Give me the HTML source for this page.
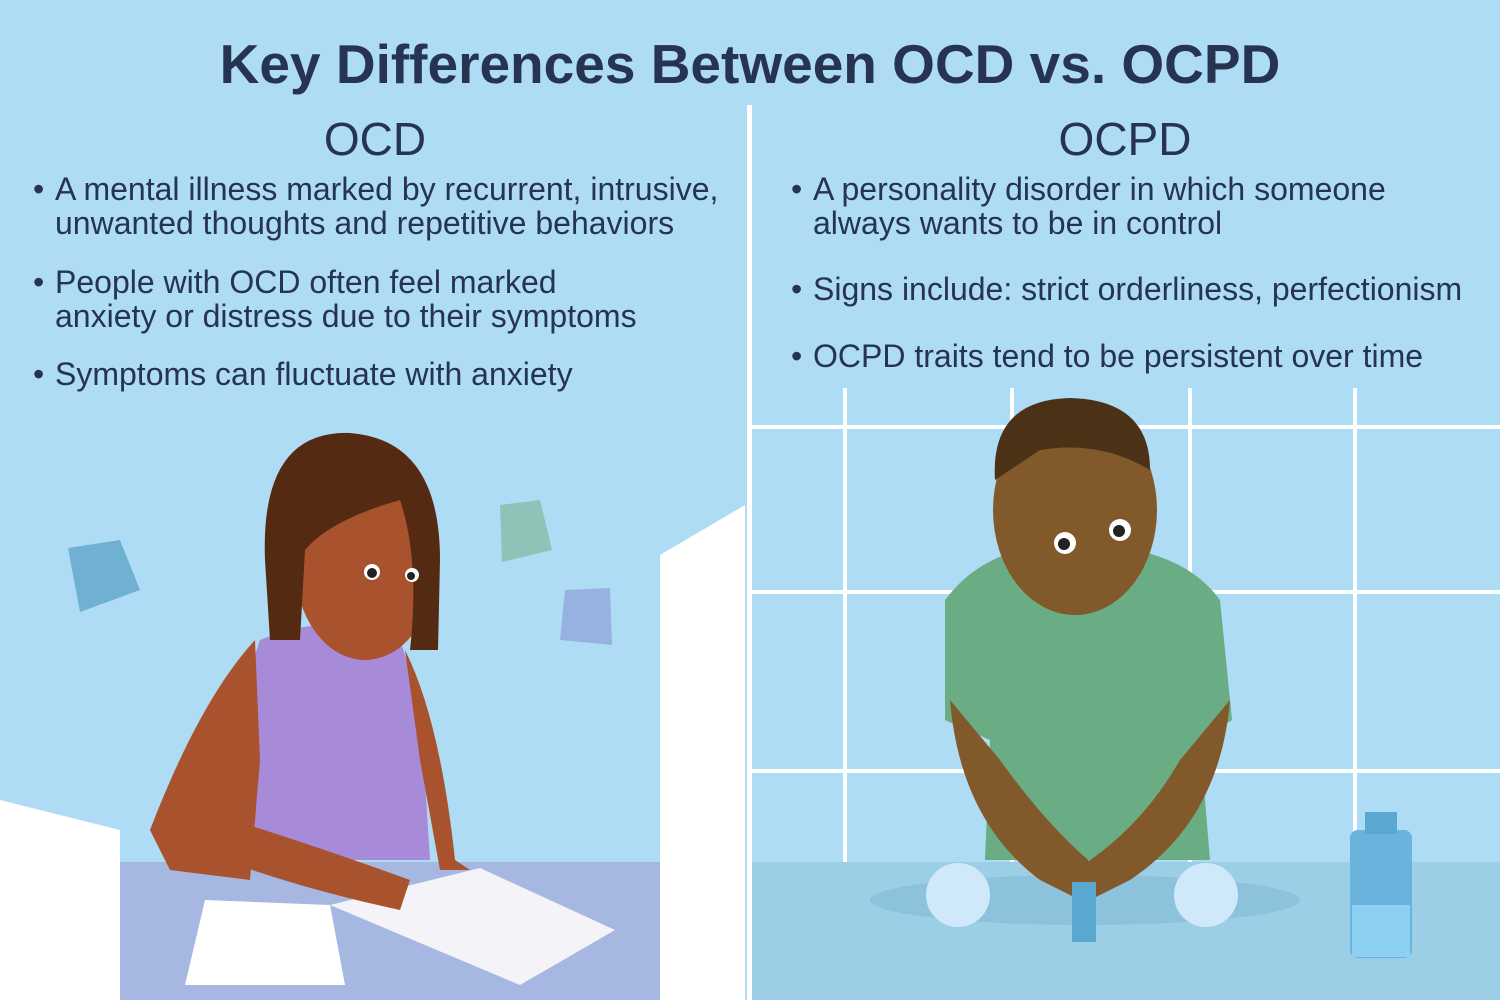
<!DOCTYPE html>
<html><head><meta charset="utf-8"><style>
html,body{margin:0;padding:0;width:1500px;height:1000px;overflow:hidden;background:#aedcf4;}
.t{position:absolute;font-family:"Liberation Sans",sans-serif;color:#263351;white-space:nowrap;}
.b{font-size:32px;line-height:34px;}
.b span{position:absolute;left:-22px;}
</style></head><body>
<svg width="1500" height="1000" style="position:absolute;left:0;top:0">
<rect width="1500" height="1000" fill="#aedcf4"/>
<g stroke="#fff" stroke-width="4">
<line x1="752" y1="427" x2="1500" y2="427"/>
<line x1="752" y1="592" x2="1500" y2="592"/>
<line x1="752" y1="771" x2="1500" y2="771"/>
<line x1="845" y1="388" x2="845" y2="862"/>
<line x1="1012" y1="388" x2="1012" y2="862"/>
<line x1="1190" y1="388" x2="1190" y2="862"/>
<line x1="1355" y1="388" x2="1355" y2="862"/>
</g>
<rect x="752" y="862" width="748" height="138" fill="#9ccfe6"/>
<ellipse cx="1085" cy="900" rx="215" ry="25" fill="#8cc2dc"/>
<path d="M945 600 Q990 540 1080 545 Q1180 545 1220 600 L1232 720 L1200 740 L1210 860 L985 860 L990 740 L945 720 Z" fill="#6aac84"/>
<path d="M950 700 Q960 820 1040 880 L1080 900 L1100 870 Q1050 830 1000 760 Z" fill="#82592b"/>
<path d="M1230 700 Q1220 820 1130 880 L1090 900 L1075 870 Q1140 830 1180 760 Z" fill="#82592b"/>
<ellipse cx="1075" cy="510" rx="82" ry="105" fill="#82592b"/>
<path d="M995 480 Q990 400 1070 398 Q1150 400 1150 470 Q1100 440 1040 450 Z" fill="#4b3217"/>
<circle cx="1065" cy="543" r="11" fill="#fff"/><circle cx="1120" cy="530" r="11" fill="#fff"/>
<circle cx="1064" cy="544" r="6" fill="#222"/><circle cx="1119" cy="531" r="6" fill="#222"/>
<circle cx="958" cy="895" r="32" fill="#cfe8fa"/><circle cx="1206" cy="895" r="32" fill="#cfe8fa"/>
<rect x="1072" y="882" width="24" height="60" fill="#5aa7d2"/>
<rect x="1350" y="830" width="62" height="128" rx="8" fill="#6ab3dc"/>
<rect x="1352" y="905" width="58" height="52" fill="#8dd0f2"/>
<rect x="1365" y="812" width="32" height="22" fill="#5aa7d2"/>
<rect x="0" y="862" width="690" height="138" fill="#a6b8e2"/>
<path d="M660 555 L745 505 L745 1000 L660 1000 Z" fill="#fff"/>
<path d="M0 800 L120 830 L120 1000 L0 1000 Z" fill="#fff"/>
<path d="M185 985 L205 900 L330 905 L345 985 Z" fill="#fff"/>
<path d="M330 905 L480 868 L615 930 L520 985 Z" fill="#f4f4f8"/>
<path d="M68 548 L120 540 L140 590 L80 612 Z" fill="#6fb0d3"/>
<path d="M500 505 L540 500 L552 550 L502 562 Z" fill="#8fc3b7"/>
<path d="M565 590 L610 588 L612 645 L560 640 Z" fill="#97b1e0"/>
<path d="M260 640 Q330 610 400 640 L420 700 L430 860 L230 860 L240 700 Z" fill="#a88bd8"/>
<path d="M255 640 Q200 700 150 830 L170 870 L250 880 L260 760 Z" fill="#a8532d"/>
<path d="M405 650 Q440 720 455 860 L470 870 L440 870 L420 760 Z" fill="#a8532d"/>
<path d="M150 830 Q260 880 400 910 L410 880 Q300 840 200 810 Z" fill="#a8532d"/>
<ellipse cx="365" cy="565" rx="70" ry="95" fill="#a8532d"/>
<path d="M265 560 Q260 430 350 433 Q440 440 440 560 L438 650 L410 650 Q420 560 400 500 Q330 520 305 550 L300 640 L270 640 Z" fill="#552a13"/>
<circle cx="372" cy="572" r="8" fill="#fff"/><circle cx="412" cy="575" r="7" fill="#fff"/>
<circle cx="372" cy="573" r="5" fill="#222"/><circle cx="411" cy="576" r="4" fill="#222"/>
<rect x="747" y="105" width="5" height="895" fill="#fff"/>
</svg>
<div class="t" style="left:0;width:1500px;top:32px;text-align:center;font-size:55px;font-weight:bold;">Key Differences Between OCD vs. OCPD</div>
<div class="t" style="left:0;width:750px;top:112px;text-align:center;font-size:46px;">OCD</div>
<div class="t" style="left:750px;width:750px;top:112px;text-align:center;font-size:46px;">OCPD</div>
<div class="t b" style="left:55px;top:172px;"><span>•</span>A mental illness marked by recurrent, intrusive,<br>unwanted thoughts and repetitive behaviors</div>
<div class="t b" style="left:55px;top:265px;"><span>•</span>People with OCD often feel marked<br>anxiety or distress due to their symptoms</div>
<div class="t b" style="left:55px;top:357px;"><span>•</span>Symptoms can fluctuate with anxiety</div>
<div class="t b" style="left:813px;top:172px;"><span>•</span>A personality disorder in which someone<br>always wants to be in control</div>
<div class="t b" style="left:813px;top:272px;"><span>•</span>Signs include: strict orderliness, perfectionism</div>
<div class="t b" style="left:813px;top:339px;"><span>•</span>OCPD traits tend to be persistent over time</div>
</body></html>
